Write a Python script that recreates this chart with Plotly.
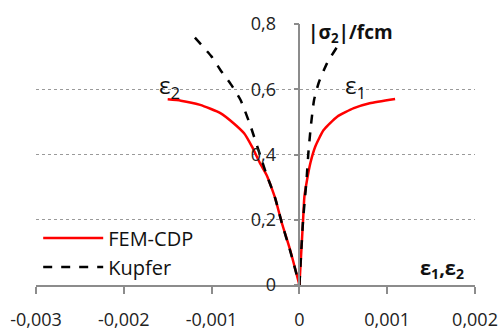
import plotly.graph_objects as go

# FEM-CDP curve (epsilon, |sigma2|/fcm); None separates the two branches
fem_eps = [-0.0015, -0.00135, -0.00113, -0.0009, -0.00075, -0.00063, -0.00054, -0.00045, -0.00037, -0.00032,
           -0.000276, -0.0002, -0.000106, 0.0,
           None,
           0.0, 0.000042, 0.000057, 0.000087, 0.000125, 0.00018, 0.000276, 0.00043, 0.00062, 0.0008, 0.00109]
fem_sig = [0.569, 0.565, 0.552, 0.527, 0.496, 0.465, 0.424, 0.374, 0.335, 0.30,
           0.266, 0.19, 0.108, 0.0,
           None,
           0.0, 0.2, 0.271, 0.322, 0.374, 0.424, 0.475, 0.516, 0.542, 0.557, 0.570]

# Kupfer curve
kup_eps = [-0.00119, -0.001, -0.0009, -0.00078, -0.00067, -0.00056, -0.00045, -0.00037, -0.00032, -0.000276,
           -0.0002, -0.0001, 0.0,
           None,
           0.0, 0.000042, 0.000065, 0.000084, 0.000102, 0.00013, 0.000167, 0.00022, 0.000315, 0.00043]
kup_sig = [0.758, 0.70, 0.659, 0.615, 0.567, 0.49, 0.40, 0.335, 0.30, 0.266,
           0.19, 0.1, 0.0,
           None,
           0.0, 0.2, 0.271, 0.333, 0.404, 0.486, 0.567, 0.62, 0.68, 0.73]

x_ticks = [-0.003, -0.002, -0.001, 0, 0.001, 0.002]
x_ticktext = ["-0,003", "-0,002", "-0,001", "0", "0,001", "0,002"]
y_ticks = [0, 0.2, 0.4, 0.6, 0.8]
y_ticktext = ["0", "0,2", "0,4", "0,6", "0,8"]

FONT = "'Open Sans', 'Noto Sans', sans-serif"

fig = go.Figure()
fig.add_trace(go.Scatter(x=fem_eps, y=fem_sig, mode="lines", name="FEM-CDP", connectgaps=False,
                         line=dict(color="#ff0000", width=2.5, shape="spline", smoothing=0.5)))
fig.add_trace(go.Scatter(x=kup_eps, y=kup_sig, mode="lines", name="Kupfer", connectgaps=False,
                         line=dict(color="#000000", width=2.5, dash="dash", shape="spline", smoothing=0.5)))

fig.update_layout(
    width=504, height=333,
    margin=dict(l=36, r=29, t=24, b=48, autoexpand=False),
    paper_bgcolor="white", plot_bgcolor="white",
    font=dict(family=FONT, size=18, color="#222"),
    separators=", ",
    showlegend=True,
    legend=dict(x=0.005, y=0.255, xanchor="left", yanchor="top",
                font=dict(size=20, color="#111"), bgcolor="rgba(0,0,0,0)",
                itemwidth=60, tracegroupgap=0),
    xaxis=dict(range=[-0.003, 0.002], tickvals=x_ticks, ticktext=x_ticktext, automargin=False,
               showgrid=False, zeroline=False, showline=True, linecolor="#8c8c8c", linewidth=1.5,
               ticks="outside", ticklen=7, tickcolor="#8c8c8c", tickwidth=1.5,
               ticklabelstandoff=11, tickfont=dict(size=18, color="#222")),
    yaxis=dict(range=[0, 0.8], tickvals=y_ticks, ticktext=y_ticktext, automargin=False,
               anchor="free", position=0.6,
               showgrid=True, gridcolor="#9a9a9a", griddash="dot", gridwidth=1,
               zeroline=False, showline=True, linecolor="#8c8c8c", linewidth=1.5,
               ticks="outside", ticklen=5, tickcolor="#8c8c8c", tickwidth=1.5,
               ticklabelstandoff=14, tickfont=dict(size=18, color="#222")),
)

fig.add_annotation(x=0.00008, y=0.772, xref="x", yref="y", xanchor="left", yanchor="middle",
                   text="<b>|σ<sub>2</sub>|/fcm</b>", showarrow=False, font=dict(size=19, color="#111"))
fig.add_annotation(x=0.0019, y=0.05, xref="x", yref="y", xanchor="right", yanchor="middle",
                   text="<b>ε<sub>1</sub>,ε<sub>2</sub></b>", showarrow=False, font=dict(size=20, color="#111"))
fig.add_annotation(x=0.0005, y=0.61, xref="x", yref="y", xanchor="left", yanchor="middle",
                   text="ε<sub>1</sub>", showarrow=False, font=dict(size=24, color="#111"))
fig.add_annotation(x=-0.00162, y=0.61, xref="x", yref="y", xanchor="left", yanchor="middle",
                   text="ε<sub>2</sub>", showarrow=False, font=dict(size=24, color="#111"))

fig.write_html("out.html")
